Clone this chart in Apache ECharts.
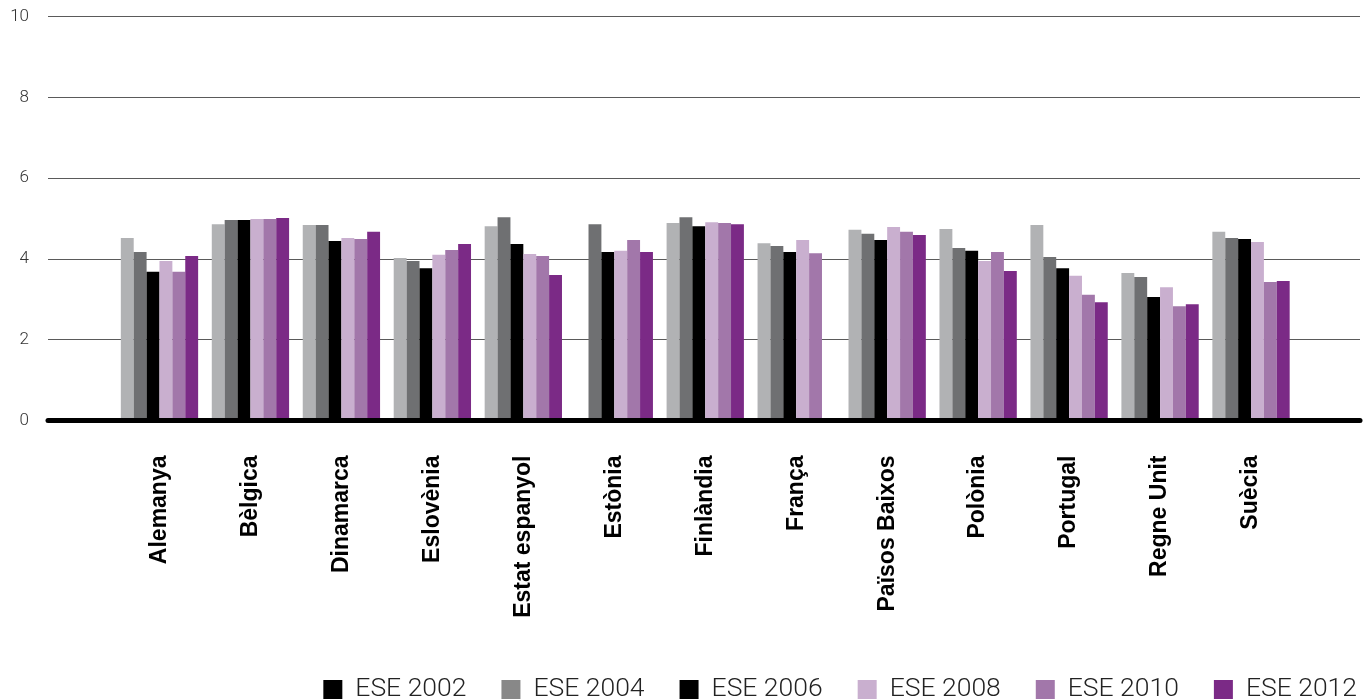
<!DOCTYPE html>
<html><head><meta charset="utf-8">
<script src="https://cdn.jsdelivr.net/npm/echarts@6/dist/echarts.min.js"></script>
<style>html,body{margin:0;padding:0;background:#fff}#c{width:1370px;height:700px}</style>
</head><body><div id="c"></div>
<script>
const categories = ['Alemanya','Bèlgica','Dinamarca','Eslovènia','Estat espanyol','Estònia','Finlàndia','França','Països Baixos','Polònia','Portugal','Regne Unit','Suècia'];
const seriesNames = ['ESE 2002','ESE 2004','ESE 2006','ESE 2008','ESE 2010','ESE 2012'];
const ese2002 = [4.52, 4.86, 4.84, 4.02, 4.81, null, 4.89, 4.39, 4.72, 4.74, 4.84, 3.65, 4.67];
const ese2004 = [4.17, 4.96, 4.84, 3.95, 5.03, 4.86, 5.03, 4.32, 4.62, 4.27, 4.05, 3.55, 4.52];
const ese2006 = [3.68, 4.96, 4.44, 3.77, 4.37, 4.17, 4.81, 4.17, 4.47, 4.20, 3.77, 3.06, 4.49];
const ese2008 = [3.95, 4.99, 4.52, 4.10, 4.12, 4.20, 4.91, 4.47, 4.79, 3.95, 3.58, 3.30, 4.42];
const ese2010 = [3.68, 4.99, 4.49, 4.22, 4.07, 4.47, 4.89, 4.14, 4.67, 4.17, 3.11, 2.83, 3.43];
const ese2012 = [4.07, 5.01, 4.67, 4.37, 3.60, 4.17, 4.86, null, 4.59, 3.70, 2.93, 2.88, 3.45];
const yTicks = [0, 2, 4, 6, 8, 10];

const values = [ese2002, ese2004, ese2006, ese2008, ese2010, ese2012];
const barColors = ['#b1b2b4', '#6f7072', '#000000', '#c9afcf', '#a277aa', '#7b2a86'];
const legendColors = ['#000000', '#888888', '#000000', '#c9afcf', '#a277aa', '#7b2a86'];

const chart = echarts.init(document.getElementById('c'));
chart.setOption({
  animation: false,
  grid: [
    {left: 48, right: 10, top: 16.5, bottom: 279.5},
    {left: 114, right: 73.5, top: 16.5, bottom: 279.5}
  ],
  xAxis: [
    {gridIndex: 0, type: 'value', min: 0, max: 1, axisLabel: {show: false}, axisTick: {show: false}, splitLine: {show: false},
     axisLine: {show: true, lineStyle: {color: '#000', width: 5}}, z: 5},
    {gridIndex: 1, type: 'category', data: categories, axisLine: {show: false}, axisTick: {show: false},
     axisLabel: {rotate: 90, margin: 35, fontFamily: 'Liberation Sans', fontWeight: 'bold', fontSize: 23, color: '#000', interval: 0}}
  ],
  yAxis: [
    {gridIndex: 0, type: 'value', min: yTicks[0], max: yTicks[yTicks.length - 1], interval: 2,
     axisLine: {show: false}, axisTick: {show: false},
     axisLabel: {margin: 19, fontFamily: 'Roboto', fontWeight: 300, fontSize: 17, color: '#333'},
     splitLine: {show: true, lineStyle: {color: '#5a5a5a', width: 1}}},
    {gridIndex: 1, type: 'value', min: 0, max: 10, show: false}
  ],
  legend: {
    right: 8, top: 671, itemWidth: 19, itemHeight: 19, itemGap: 35, icon: 'rect',
    textStyle: {fontFamily: 'Roboto', fontWeight: 300, fontSize: 26.5, color: '#222', padding: [0, 0, 0, 8]},
    data: seriesNames.map((n, i) => ({name: n, itemStyle: {color: legendColors[i]}}))
  },
  series: seriesNames.map((n, i) => ({
    name: n, type: 'bar', xAxisIndex: 1, yAxisIndex: 1, data: values[i],
    barGap: '0%', barCategoryGap: '15%', itemStyle: {color: barColors[i]}
  }))
});
</script></body></html>
